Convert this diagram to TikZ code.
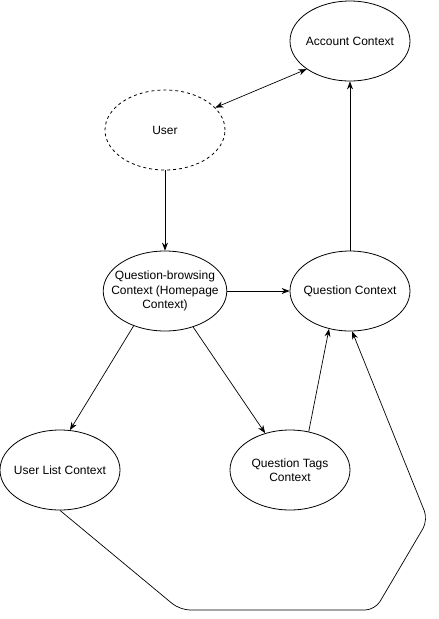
\documentclass[tikz,border=0pt]{standalone}
\usepackage{fontspec}
\setmainfont{Liberation Sans}
\usetikzlibrary{arrows.meta,shapes.geometric}

\begin{document}
\begin{tikzpicture}[
    x=1pt, y=-1pt,
    ctx/.style={ellipse, draw, minimum width=120pt, minimum height=80pt, inner sep=-10pt, align=center, font=\fontsize{12}{14.5}\selectfont, line width=0.8pt},
    arrow/.style={-{Stealth[length=8pt, width=6pt]}, line width=0.7pt},
    biarrow/.style={{Stealth[length=8pt, width=6pt]}-{Stealth[length=8pt, width=6pt]}, line width=0.7pt}
]
    \useasboundingbox (0,0) rectangle (439,619);

    \node[ctx] (account) at (350,41) {Account Context};
    \node[ctx, dashed] (user) at (165,130) {User};
    \node[ctx] (browse) at (165,291) {Question-browsing\\Context (Homepage\\Context)};
    \node[ctx] (question) at (350,291) {Question Context};
    \node[ctx] (userlist) at (60,470) {User List Context};
    \node[ctx] (tags) at (290,470) {Question Tags\\Context};

    \draw[biarrow] (user.24) -- (account.213);
    \draw[arrow] (user) -- (browse);
    \draw[arrow] (browse) -- (question);
    \draw[arrow] (browse.228) -- (userlist.76);
    \draw[arrow] (browse.308) -- (tags.124);
    \draw[arrow] (tags.64) -- (question.241);
    \draw[arrow] (question) -- (account);
    \draw[arrow, rounded corners=10pt] (userlist.south) -- (180,610) -- (375,610) -- (428,520) -- (question.273);
\end{tikzpicture}
\end{document}
